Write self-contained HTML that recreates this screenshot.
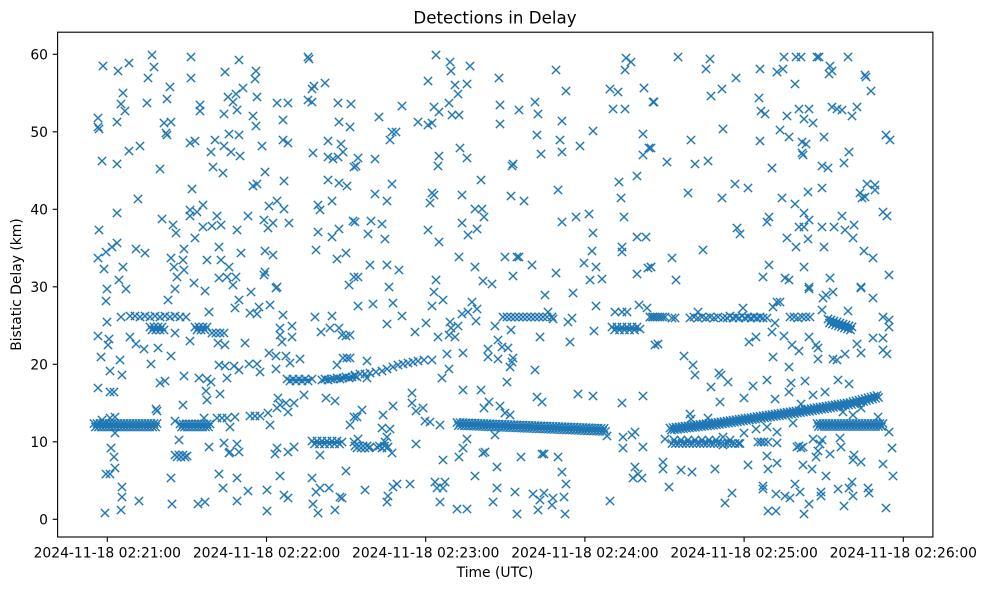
<!DOCTYPE html>
<html><head><meta charset="utf-8"><style>
html,body{margin:0;padding:0;background:#fff;}
svg{display:block;}
text{font-family:"DejaVu Sans","Liberation Sans",sans-serif;fill:#000;}
</style></head><body>
<svg width="986" height="590" viewBox="0 0 986 590" xmlns="http://www.w3.org/2000/svg">
<defs>
<marker id="m" markerUnits="userSpaceOnUse" markerWidth="12" markerHeight="12" refX="6" refY="6" overflow="visible">
<path d="M1.83,1.83L10.17,10.17M1.83,10.17L10.17,1.83" stroke="#1f77b4" stroke-width="1.39" fill="none"/>
</marker>
<style>.p{fill:none;stroke:none;marker-start:url(#m);marker-mid:url(#m);marker-end:url(#m);}.b{fill:none;stroke:#1f77b4;stroke-linecap:butt;stroke-linejoin:round;}</style>
</defs>
<rect x="0" y="0" width="986" height="590" fill="#fff"/>

<!-- solid band underlays -->
<polyline class="b" stroke-width="5" points="95,425.3 156,425.3"/>
<polyline class="b" stroke-width="5" points="181,425.5 210,425.5"/>
<polyline class="b" stroke-width="5" points="458,424 530,426.9 604,430"/>
<polyline class="b" stroke-width="5" points="671,429 717,423.5 793,412.5 850,403.5 877,396.5"/>
<polyline class="b" stroke-width="4" points="818,425 882,425"/>
<polyline class="b" stroke-width="4" points="151,328.5 163,328.5"/>
<polyline class="b" stroke-width="4" points="196,328.5 206,328.5"/>
<polyline class="b" stroke-width="4" points="613,328.5 639,328.5"/>
<polyline class="b" stroke-width="3" points="288,380 311,380"/>
<polyline class="b" stroke-width="3" points="323,379.5 356,377"/>
<polyline class="b" stroke-width="3" points="313,442.5 341,442.5"/>
<polyline class="b" stroke-width="4" points="830,320.5 851,328.5"/>

<!-- scatter left top -->
<polyline class="p" points="103,66 118,71 129,63 152,55 154,67 148,78 191,57 191,78 239,60 225,72 256,71 255,79 308,57 309,59 170,87 123,93 121,104 125,111 147,103 167,99 200,105 200,111 228,97 236,94 243,88 233,102 237,110 257,97 277,103 288,103 308,100 312,102 312,89 314,86 325,83 338,103 351,104 98,118 98,127 99,129 117,122 164,123 171,122 166,133 167,135 224,114 253,116 256,126 283,120 339,122 350,127 190,143 195,141 215,140 229,134 239,135 224,146 231,152 240,156 211,152 262,146 283,140 288,143 328,141 341,144 129,151 140,146 102,161 117,164 160,169 213,167 223,173 265,172 313,153 328,157 333,159 338,157 343,152 354,167 192,189 253,186 257,184 284,181 328,180 339,183 347,186 138,199 117,213 190,210 190,216 197,212 203,205 217,216 269,206 277,201 284,209 318,205 320,210 332,201 99,230 162,219 173,225 176,233 203,227 212,226 221,225 195,238 237,230 248,216 264,220 268,228 273,223 289,223 318,232 332,237 339,229 353,221 98,258 106,252 112,247 117,243 136,249 145,253 184,249 171,258 183,260 174,267 184,270 207,260 219,247 221,260 229,267 241,253 265,251 273,255 316,250 337,259 346,253 104,269 123,267 119,280 177,277 194,283 219,278 227,277 236,277 264,275 265,272 233,285 277,287 349,285 354,277"/>

<!-- scatter left bottom -->
<polyline class="p" points="107,289 126,289 106,301 175,289 205,291 251,292 276,288 168,300 239,300 235,308 259,307 270,305 250,313 257,314 209,312 121,317 107,322 283,315 315,317 332,316 98,336 109,339 108,345 130,337 136,344 144,349 158,348 190,341 218,343 225,345 245,343 280,328 280,335 282,342 292,326 292,337 321,332 330,328 339,328 342,335 346,336 350,335 175,333 212,333 216,333 220,333 224,333 101,357 120,360 110,371 122,375 151,364 171,356 219,365 225,366 234,366 239,370 249,364 257,364 260,372 269,353 276,356 286,356 290,363 300,359 276,369 337,365 343,358 347,358 350,358 98,388 110,392 114,392 160,383 165,381 184,376 199,378 207,379 211,382 206,391 207,400 220,394 227,378 278,398 280,405 286,403 294,403 288,412 304,395 326,398 335,401 183,405 156,409 157,411 175,421 204,418 217,418 222,418 227,418 230,427 235,417 250,416 255,416 260,416 268,413 277,408 270,425 354,417 350,425 102,420 110,418 115,417 115,433 354,442 179,440 209,447 224,443 230,452 237,444 239,452 229,453 111,448 114,457 277,448 275,454 288,452 294,447 320,455 115,468 110,474 106,474 171,478 219,474 223,488 237,478 248,491 237,501 267,490 280,476 284,495 288,498 312,478 316,492 320,488 329,488 340,497 342,498 346,471 122,487 122,497 121,510 139,501 105,513 172,504 198,504 205,502 267,511 313,504 318,513 335,510"/>

<!-- scatter middle top -->
<polyline class="p" points="436,55 450,62 451,71 470,66 428,81 455,85 467,84 458,94 449,103 434,107 439,112 452,115 459,115 402,106 379,117 418,122 428,125 432,123 392,132 396,132 390,140 499,78 500,105 500,124 519,110 535,102 538,114 556,70 566,91 562,121 537,135 560,140 562,152 541,154 580,146 593,131 626,58 631,62 625,70 610,89 618,92 644,88 653,102 613,109 625,109 643,134 649,148 643,155 358,158 356,166 375,159 460,148 467,158 439,156 438,166 512,166 513,164 481,180 392,184 375,194 387,201 432,193 434,195 430,203 462,195 511,196 524,201 558,190 619,182 637,176 621,198 475,209 482,209 484,217 355,222 371,221 382,224 368,234 385,239 428,230 439,242 462,223 477,229 468,235 562,222 576,217 589,214 624,217 593,233 637,237 646,237 622,247 622,252 592,251 459,257 505,257 517,257 519,257 532,265 584,263 596,267 556,273 590,280 602,279 637,274 648,268 651,267 370,265 387,265 399,270 358,277 475,267 513,276 436,280 483,281 492,284 389,287"/>

<!-- scatter middle bottom -->
<polyline class="p" points="434,292 443,300 432,306 358,306 373,304 393,303 402,316 387,324 415,332 426,323 438,337 450,322 451,328 449,335 455,337 458,326 462,314 468,312 472,302 477,309 476,321 495,326 511,330 545,295 548,312 553,319 540,337 568,322 572,318 570,342 573,293 594,331 596,306 615,312 622,312 627,312 639,305 647,308 650,317 653,317 655,345 367,361 367,378 447,354 463,353 449,369 442,378 488,349 488,357 498,340 502,347 508,348 498,359 513,358 512,362 510,367 507,382 535,370 463,390 481,390 412,393 412,403 416,411 423,408 393,406 383,415 362,410 357,417 425,421 430,422 440,425 382,428 390,429 484,408 489,402 500,406 505,413 510,415 537,397 542,402 578,394 593,396 622,403 643,396 607,436 623,437 632,435 635,432 623,448 643,447 358,439 387,437 385,442 392,453 416,444 495,435 467,439 463,448 459,457 443,460 485,452 483,453 521,457 542,454 544,454 558,457 497,467 475,476 562,472 566,484 497,488 515,492 533,494 544,493 540,500 553,498 552,505 564,497 493,502 538,510 517,514 565,514 457,509 467,509 440,502 435,482 445,482 437,488 443,488 410,484 397,484 393,487 388,496 387,502 365,490 610,501 635,467 638,474 633,478 642,478"/>

<!-- scatter right top -->
<polyline class="p" points="678,57 710,59 706,69 736,78 722,89 711,96 654,102 760,69 777,72 783,69 784,57 796,57 801,57 817,57 819,57 830,66 832,71 829,74 848,57 795,84 865,75 866,77 871,91 759,98 761,111 765,114 787,116 799,109 809,109 804,119 813,123 832,107 837,109 842,110 852,116 857,107 723,129 691,140 760,141 780,130 789,137 802,142 806,144 802,153 803,155 824,137 886,135 890,140 651,148 667,162 695,164 708,161 772,168 822,166 828,168 844,163 849,152 688,193 722,198 735,184 748,188 782,198 795,204 808,192 822,188 867,184 875,185 875,190 860,193 865,197 862,198 804,213 809,220 769,217 767,222 799,227 804,227 822,227 834,227 842,216 845,230 854,225 853,238 883,212 887,216 737,228 740,234 787,238 796,247 808,239 824,247 864,251 873,258 703,250 672,258 651,267 676,280 769,265 763,277 785,278 789,280 804,267 830,278 809,287 861,287 889,275"/>

<!-- scatter right bottom -->
<polyline class="p" points="809,289 823,298 826,295 833,292 861,288 873,298 822,310 848,311 777,302 780,302 773,307 743,308 698,312 775,323 772,332 883,317 889,320 889,327 658,344 749,342 756,337 784,336 792,345 799,351 809,337 816,345 818,348 818,359 833,359 837,360 845,354 857,344 861,353 873,338 883,338 883,350 887,354 773,357 684,356 693,365 695,375 719,373 721,375 728,382 711,387 720,402 744,398 753,386 767,380 775,399 789,367 791,383 789,392 805,381 801,404 813,395 825,392 838,380 849,384 843,412 853,415 861,408 690,414 691,419 708,418 793,423 878,417 889,432 665,439 723,437 723,445 744,433 756,429 767,427 777,432 777,443 813,439 822,440 820,444 818,451 816,457 830,454 840,438 841,447 854,455 853,460 861,462 892,448 883,464 893,476 767,456 777,463 768,469 748,465 715,469 663,462 663,469 681,470 692,472 803,465 812,469 826,476 669,487 732,493 725,503 763,486 763,489 776,494 785,496 790,498 795,484 800,492 821,492 821,496 809,504 838,489 849,488 852,482 853,496 868,488 869,493 844,506 886,508 768,511 776,511 804,514"/>

<!-- tracks left -->
<polyline class="p" points="94,423.5 97,423.5 100,423.5 103,423.5 106,423.5 109,423.5 112,423.5 115,423.5 118,423.5 121,423.5 124,423.5 127,423.5 130,423.5 133,423.5 136,423.5 139,423.5 142,423.5 145,423.5 148,423.5 151,423.5 154,423.5 157,423.5"/>
<polyline class="p" points="95.5,427 98.5,427 101.5,427 104.5,427 107.5,427 110.5,427 113.5,427 116.5,427 119.5,427 122.5,427 125.5,427 128.5,427 131.5,427 134.5,427 137.5,427 140.5,427 143.5,427 146.5,427 149.5,427 152.5,427 155.5,427"/>
<polyline class="p" points="180,424 183,424 186,424 189,424 192,424 195,424 198,424 201,424 204,424 207,424 210,424"/>
<polyline class="p" points="181.5,427 184.5,427 187.5,427 190.5,427 193.5,427 196.5,427 199.5,427 202.5,427 205.5,427 208.5,427"/>
<polyline class="p" points="130,316 135,316 140,317 145,316 150,317 155,316 160,317 165,316 170,317 175,316 180,317 186,317"/>
<polyline class="p" points="150,327 152,330 154,327 156,330 158,327 160,330 162,327 164,330 195,327 197,330 199,327 201,330 203,327 205,330 207,327"/>
<polyline class="p" points="287,379 290,381 293,379 296,381 299,379 302,381 305,379 308,381 312,379 322,380 325,379 328,380 331,379 334,379 337,378 340,379 343,378 346,377 349,378 352,377 355,376 357,377"/>
<polyline class="p" points="312,441 314.5,444 317,441 319.5,444 322,441 324.5,444 327,441 329.5,444 332,441 334.5,444 337,441 339.5,444 342,442"/>
<polyline class="p" points="175,455 177,457 179,455 181,457 183,455 185,457 187,456"/>

<!-- tracks middle -->
<polyline class="p" points="355,446 357,448 359,446 361,448 363,446 365,448 367,446 369,448 370,447 377,447 379.5,446 382,448 384.5,446 387,448 388,447"/>
<polyline class="p" points="355,375 360,374 365,374 370,373 376,372 382,371 387,369 393,367 398,365 403,364 408,363 413,362 418,361 424,360 432,360"/>
<polyline class="p" points="457,422.5 460,422.6 463,422.7 466,422.9 469,423 472,423.1 475,423.2 478,423.4 481,423.5 484,423.6 487,423.7 490,423.8 493,424 496,424.1 499,424.2 502,424.3 505,424.4 508,424.6 511,424.7 514,424.8 517,424.9 520,425.1 523,425.2 526,425.3 529,425.4 532,425.5 535,425.7 538,425.8 541,425.9 544,426 547,426.1 550,426.3 553,426.4 556,426.5 559,426.6 562,426.7 565,426.9 568,427 571,427.1 574,427.2 577,427.4 580,427.5 583,427.6 586,427.7 589,427.8 592,428 595,428.1 598,428.2 601,428.3 604,428.4"/>
<polyline class="p" points="458.5,425.5 461.5,425.6 464.5,425.7 467.5,425.9 470.5,426 473.5,426.1 476.5,426.2 479.5,426.4 482.5,426.5 485.5,426.6 488.5,426.7 491.5,426.8 494.5,427 497.5,427.1 500.5,427.2 503.5,427.3 506.5,427.4 509.5,427.6 512.5,427.7 515.5,427.8 518.5,427.9 521.5,428.1 524.5,428.2 527.5,428.3 530.5,428.4 533.5,428.5 536.5,428.7 539.5,428.8 542.5,428.9 545.5,429 548.5,429.1 551.5,429.3 554.5,429.4 557.5,429.5 560.5,429.6 563.5,429.7 566.5,429.9 569.5,430 572.5,430.1 575.5,430.2 578.5,430.4 581.5,430.5 584.5,430.6 587.5,430.7 590.5,430.8 593.5,431 596.5,431.1 599.5,431.2 602.5,431.3 605.5,431.4"/>
<polyline class="p" points="503,317 507,317 511,317 515,317 519,317 523,317 527,317 531,317 535,317 539,317 543,317 547,317 552,317"/>
<polyline class="p" points="612,327 614.5,330 617,327 619.5,330 622,327 624.5,330 627,327 629.5,330 632,327 634.5,330 637,327 640,329"/>

<!-- tracks right -->
<polyline class="p" points="670,428 673,427.6 676,427.3 679,426.9 682,426.6 685,426.2 688,425.9 691,425.5 694,425.2 697,424.8 700,424.5 703,424.1 706,423.8 709,423.4 712,423.1 715,422.7 718,422.4 721,421.9 724,421.5 727,421.1 730,420.6 733,420.2 736,419.8 739,419.3 742,418.9 745,418.4 748,418 751,417.6 754,417.1 757,416.7 760,416.3 763,415.8 766,415.4 769,414.9 772,414.5 775,414.1 778,413.6 781,413.2 784,412.8 787,412.3 790,411.9 793,411.5 796,411 799,410.6 802,410.1 805,409.6 808,409.2 811,408.7 814,408.2 817,407.7 820,407.2 823,406.8 826,406.3 829,405.8 832,405.3 835,404.9 838,404.4 841,403.9 844,403.4 847,403 850,402.5 853,401.7 856,400.9 859,400.2 862,399.4 865,398.6 868,397.8 871,397.1 874,396.3 877,395.5"/>
<polyline class="p" points="671.5,430 674.5,429.6 677.5,429.3 680.5,428.9 683.5,428.6 686.5,428.2 689.5,427.9 692.5,427.5 695.5,427.2 698.5,426.8 701.5,426.5 704.5,426.1 707.5,425.8 710.5,425.4 713.5,425.1 716.5,424.7 719.5,424.4 722.5,423.9 725.5,423.5 728.5,423.1 731.5,422.6 734.5,422.2 737.5,421.8 740.5,421.3 743.5,420.9 746.5,420.4 749.5,420 752.5,419.6 755.5,419.1 758.5,418.7 761.5,418.3 764.5,417.8 767.5,417.4 770.5,416.9 773.5,416.5 776.5,416.1 779.5,415.6 782.5,415.2 785.5,414.8 788.5,414.3 791.5,413.9 794.5,413.5 797.5,413 800.5,412.6 803.5,412.1 806.5,411.6 809.5,411.2 812.5,410.7 815.5,410.2 818.5,409.7 821.5,409.2 824.5,408.8 827.5,408.3 830.5,407.8 833.5,407.3 836.5,406.9 839.5,406.4 842.5,405.9 845.5,405.4 848.5,405 851.5,404.5 854.5,403.7 857.5,402.9 860.5,402.2 863.5,401.4 866.5,400.6 869.5,399.8 872.5,399.1 875.5,398.3 878.5,397.5"/>
<polyline class="p" points="817,423.5 820,423.5 823,423.5 826,423.5 829,423.5 832,423.5 835,423.5 838,423.5 841,423.5 844,423.5 847,423.5 850,423.5 853,423.5 856,423.5 859,423.5 862,423.5 865,423.5 868,423.5 871,423.5 874,423.5 877,423.5 880,423.5 883,423.5"/>
<polyline class="p" points="818.5,426.5 821.5,426.5 824.5,426.5 827.5,426.5 830.5,426.5 833.5,426.5 836.5,426.5 839.5,426.5 842.5,426.5 845.5,426.5 848.5,426.5 851.5,426.5 854.5,426.5 857.5,426.5 860.5,426.5 863.5,426.5 866.5,426.5 869.5,426.5 872.5,426.5 875.5,426.5 878.5,426.5 881.5,426.5"/>
<polyline class="p" points="672,443.5 675.5,443.5 679,443.5 682.5,443.5 686,443.5 689.5,443.5 693,443.5 696.5,443.5 700,443.5 703.5,443.5 707,443.5 710.5,443.5 714,443.5 717.5,443.5 721,443.5 724.5,443.5 728,443.5 731.5,443.5 735,443.5 738.5,443.5 740,443.5"/>
<polyline class="p" points="674,440 681,440 688,440 695,440 702,440 709,440 716,440 730,440 758,442 761,442 764,442 768,442"/>
<polyline class="p" points="797,447 799,446 801,448 803,447"/>
<polyline class="p" points="650,317 652.5,317 655,317 657.5,317 660,317 662.5,317 665,317 672,318 675,318 690,318 694,317 698,318 702,317 706,318 710,317 714,318 718,317 723,318 727,318 730,316 733,318 736,317 739,318 742,316 745,318 748,317 751,318 754,317 757,318 760,317 763,318 767,318 790,317 794,317 798,318 802,317 806,317 810,317"/>
<polyline class="p" points="828,319 831,320 834,321 837,322 840,323 843,324 846,325 849,326 852,327 829.5,323 832.5,324 835.5,325 838.5,326 841.5,327 844.5,328 847.5,329 850.5,330"/>

<!-- axes -->
<rect x="57.6" y="32.2" width="875.3" height="504.8" fill="none" stroke="#000" stroke-width="1.11"/>
<g stroke="#000" stroke-width="1.11">
<line x1="57.6" y1="519.3" x2="52.7" y2="519.3"/>
<line x1="57.6" y1="441.8" x2="52.7" y2="441.8"/>
<line x1="57.6" y1="364.3" x2="52.7" y2="364.3"/>
<line x1="57.6" y1="286.8" x2="52.7" y2="286.8"/>
<line x1="57.6" y1="209.3" x2="52.7" y2="209.3"/>
<line x1="57.6" y1="131.8" x2="52.7" y2="131.8"/>
<line x1="57.6" y1="54.3" x2="52.7" y2="54.3"/>
<line x1="107.3" y1="537" x2="107.3" y2="541.9"/>
<line x1="266.5" y1="537" x2="266.5" y2="541.9"/>
<line x1="425.7" y1="537" x2="425.7" y2="541.9"/>
<line x1="584.9" y1="537" x2="584.9" y2="541.9"/>
<line x1="744.1" y1="537" x2="744.1" y2="541.9"/>
<line x1="903.3" y1="537" x2="903.3" y2="541.9"/>
</g>
<g font-size="13.89" text-anchor="end">
<text x="48" y="524.3">0</text>
<text x="48" y="446.8">10</text>
<text x="48" y="369.3">20</text>
<text x="48" y="291.8">30</text>
<text x="48" y="214.3">40</text>
<text x="48" y="136.8">50</text>
<text x="48" y="59.3">60</text>
</g>
<g font-size="13.89" text-anchor="middle">
<text x="107.3" y="557.5">2024-11-18 02:21:00</text>
<text x="266.5" y="557.5">2024-11-18 02:22:00</text>
<text x="425.7" y="557.5">2024-11-18 02:23:00</text>
<text x="584.9" y="557.5">2024-11-18 02:24:00</text>
<text x="744.1" y="557.5">2024-11-18 02:25:00</text>
<text x="903.3" y="557.5">2024-11-18 02:26:00</text>
<text x="495" y="577">Time (UTC)</text>
<text transform="translate(21,284.5) rotate(-90)" x="0" y="0">Bistatic Delay (km)</text>
</g>
<text x="495" y="23.5" font-size="16.67" text-anchor="middle">Detections in Delay</text>
</svg>
</body></html>
